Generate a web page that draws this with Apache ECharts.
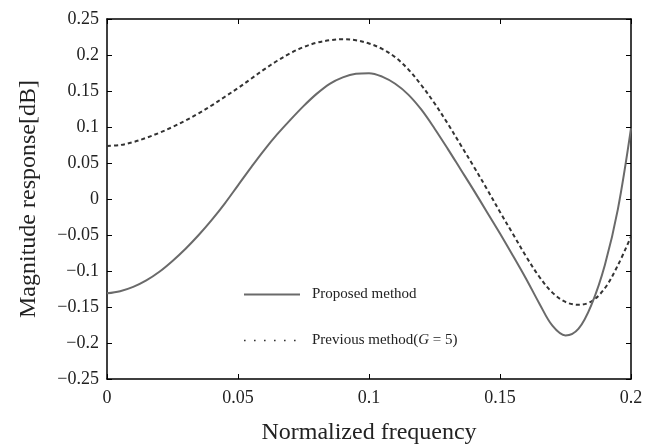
<!DOCTYPE html>
<html>
<head>
<meta charset="utf-8">
<script src="https://cdn.jsdelivr.net/npm/echarts@6/dist/echarts.min.js"></script>
<style>html,body{margin:0;padding:0;background:#fff;}#c{width:654px;height:444px;}</style>
</head>
<body>
<div id="c"></div>
<script>
var freq = [0,0.005,0.01,0.015,0.02,0.025,0.03,0.035,0.04,0.045,0.05,0.055,0.06,0.065,0.07,0.075,0.08,0.085,0.09,0.095,0.1,0.105,0.11,0.115,0.12,0.125,0.13,0.135,0.14,0.145,0.15,0.155,0.16,0.165,0.17,0.175,0.18,0.185,0.19,0.195,0.2];
var proposed = [-0.131,-0.128,-0.122,-0.113,-0.101,-0.086,-0.069,-0.050,-0.029,-0.006,0.019,0.044,0.068,0.090,0.110,0.129,0.146,0.160,0.169,0.174,0.1748,0.170,0.160,0.145,0.124,0.098,0.070,0.041,0.012,-0.018,-0.048,-0.079,-0.111,-0.145,-0.176,-0.1895,-0.180,-0.146,-0.092,-0.014,0.098];
var previous = [0.0736,0.075,0.079,0.085,0.092,0.100,0.109,0.119,0.130,0.142,0.154,0.167,0.180,0.192,0.2025,0.211,0.217,0.2205,0.222,0.2205,0.216,0.2085,0.197,0.180,0.158,0.133,0.105,0.075,0.045,0.014,-0.018,-0.049,-0.080,-0.108,-0.130,-0.143,-0.147,-0.142,-0.124,-0.092,-0.052];
var xTicks = {min:0, max:0.2, interval:0.05};
var yTicks = {min:-0.25, max:0.25, interval:0.05};
var seriesNames = ['Proposed method','Previous method(G = 5)'];

function pair(xs, ys){ return xs.map(function(x,i){return [x, ys[i]];}); }
function fmt(v){ var s = String(Number(v.toFixed(3))); return s.charAt(0)==='-' ? '\u2212'+s.slice(1) : s; }

var FONT = 'Liberation Serif';
var chart = echarts.init(document.getElementById('c'), null, {renderer:'canvas'});
var axisLine = {show:true, onZero:false, lineStyle:{color:'#000', width:1.5}};
var tick = {show:true, inside:true, length:5, lineStyle:{color:'#000', width:1}};
chart.setOption({
  animation:false,
  backgroundColor:'#fff',
  grid:{left:107, right:23, top:19, bottom:65, containLabel:false, outerBoundsMode:'none'},
  legend:{
    show:true, orient:'vertical', left:243, top:287, padding:0, itemWidth:56, itemHeight:14, itemGap:31,
    textStyle:{fontFamily:FONT, fontSize:15, color:'#222', padding:[0,0,0,7],
      rich:{a:{fontFamily:FONT, fontSize:15, color:'#222'}, i:{fontFamily:FONT, fontSize:15, fontStyle:'italic', color:'#222'}}},
    formatter:function(name){
      if(name===seriesNames[1]) return '{a|Previous method(}{i|G}{a| = 5)}';
      return '{a|'+name+'}';
    },
    data:[
      {name:seriesNames[0], itemStyle:{color:'rgba(0,0,0,0)', borderWidth:0}, lineStyle:{color:'#6a6a6a', width:2, type:'solid'}},
      {name:seriesNames[1], itemStyle:{color:'rgba(0,0,0,0)', borderWidth:0}, lineStyle:{color:'#333', width:1.6, type:[1.6,8.4]}}
    ]
  },
  xAxis:[
    {type:'value', min:xTicks.min, max:xTicks.max, interval:xTicks.interval, position:'bottom',
     name:'Normalized frequency', nameLocation:'middle', nameGap:42,
     nameTextStyle:{fontFamily:FONT, fontSize:24, color:'#222'},
     axisLine:axisLine, axisTick:tick, splitLine:{show:false},
     axisLabel:{fontFamily:FONT, fontSize:18, color:'#222', margin:10, formatter:fmt}},
    {type:'value', min:xTicks.min, max:xTicks.max, interval:xTicks.interval, position:'top',
     axisLine:axisLine, axisTick:tick, splitLine:{show:false}, axisLabel:{show:false}}
  ],
  yAxis:[
    {type:'value', min:yTicks.min, max:yTicks.max, interval:yTicks.interval, position:'left',
     name:'Magnitude response[dB]', nameLocation:'middle', nameGap:66,
     nameTextStyle:{fontFamily:FONT, fontSize:24, color:'#222'},
     axisLine:axisLine, axisTick:tick, splitLine:{show:false},
     axisLabel:{fontFamily:FONT, fontSize:18, color:'#222', margin:8, formatter:fmt}},
    {type:'value', min:yTicks.min, max:yTicks.max, interval:yTicks.interval, position:'right',
     axisLine:axisLine, axisTick:tick, splitLine:{show:false}, axisLabel:{show:false}}
  ],
  series:[
    {name:seriesNames[0], type:'line', data:pair(freq, proposed), smooth:0.35, symbol:'none',
     lineStyle:{color:'#6a6a6a', width:2}, itemStyle:{color:'#6a6a6a'}, z:3},
    {name:seriesNames[1], type:'line', data:pair(freq, previous), smooth:0.35, symbol:'none',
     lineStyle:{color:'#333', width:2, type:[4,3]}, itemStyle:{color:'#333'}, z:2}
  ]
});
</script>
</body>
</html>
